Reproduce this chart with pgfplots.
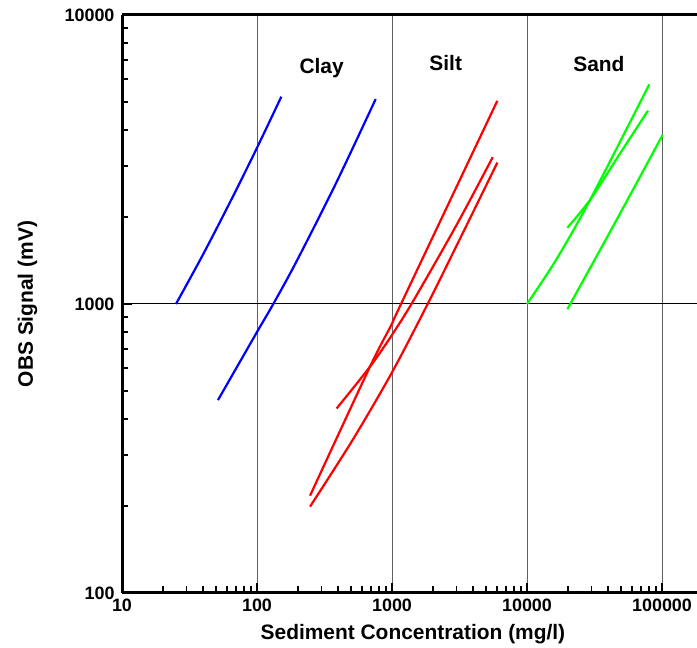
\documentclass[border=0pt]{standalone}
\usepackage{pgfplots}
\pgfplotsset{compat=1.18}
\usepackage{fontspec}
\setmainfont{Liberation Sans}
\begin{document}
\begin{tikzpicture}
\path[use as bounding box] (-122bp,-55bp) rectangle (575bp,593bp);
\begin{axis}[
  at={(0,0)}, anchor=south west,
  scale only axis, width=575bp, height=578bp,
  xmode=log, ymode=log,
  xmin=10, xmax=181600, ymin=100, ymax=10000,
  axis y line*=left,
  tick pos=left,
  axis line style={line width=3bp},
  tick style={black, line width=1.8bp},
  major tick length=10bp, minor tick length=6.5bp,
  xtick={10,100,1000,10000,100000},
  xticklabels={10,100,1000,10000,100000},
  ytick={100,1000,10000},
  yticklabels={100,1000,10000},
  minor xtick={20,30,40,50,60,70,80,90,200,300,400,500,600,700,800,900,2000,3000,4000,5000,6000,7000,8000,9000,20000,30000,40000,50000,60000,70000,80000,90000},
  minor ytick={200,300,400,500,600,700,800,900,2000,3000,4000,5000,6000,7000,8000,9000},
  xmajorgrids, ymajorgrids,
  x grid style={gray!75!black, line width=1bp},
  y grid style={black, line width=1bp},
  /pgf/number format/assume math mode=true,
  ticklabel style={font=\fontsize{18}{20}\selectfont\bfseries},
  xticklabel style={yshift=-2bp},
  yticklabel style={xshift=-4bp},
  label style={font=\fontsize{21}{24}\selectfont\bfseries},
  xlabel={Sediment Concentration (mg/l)},
  ylabel={OBS Signal (mV)},
  xlabel style={at={(axis description cs:0.506,-0.0709)}, anchor=center},
  ylabel style={at={(axis description cs:-0.1643,0.5)}, anchor=center},
  every axis plot/.append style={line width=2.2bp, smooth, no markers},
]
% Clay (blue)
\addplot[color={rgb,255:red,0;green,0;blue,255}] coordinates {(25.1,1000) (39.4,1469) (61.7,2203) (96.6,3357) (151.4,5215)};
\addplot[color={rgb,255:red,0;green,0;blue,255}] coordinates {(51.4,465) (100,800) (132,1000) (197,1409) (386,2625) (757,5118)};
% Silt (red)
\addplot[color={rgb,255:red,255;green,0;blue,0}] coordinates {(247,217) (687,607) (1000,855) (1166,1000) (6026,5047)};
\addplot[color={rgb,255:red,255;green,0;blue,0}] coordinates {(389,435) (687,607) (1000,782) (1439,1026) (3013,1880) (5572,3221)};
\addplot[color={rgb,255:red,255;green,0;blue,0}] coordinates {(247,199) (510,338) (1000,580) (1837,1000) (3191,1683) (6026,3084)};
% Sand (green)
\addplot[color={rgb,255:red,0;green,255;blue,0}] coordinates {(10000,1000) (16400,1420) (29300,2291) (80500,5754)};
\addplot[color={rgb,255:red,0;green,255;blue,0}] coordinates {(19900,1837) (29300,2291) (48900,3319) (78700,4666)};
\addplot[color={rgb,255:red,0;green,255;blue,0}] coordinates {(19900,959) (46100,1955) (101000,3846)};
\node[font=\fontsize{21}{24}\selectfont\bfseries, anchor=base] at (axis cs:301,6285) {Clay};
\node[font=\fontsize{21}{24}\selectfont\bfseries, anchor=base] at (axis cs:2500,6413) {Silt};
\node[font=\fontsize{21}{24}\selectfont\bfseries, anchor=base] at (axis cs:34100,6367) {Sand};
\end{axis}
\end{tikzpicture}
\end{document}
